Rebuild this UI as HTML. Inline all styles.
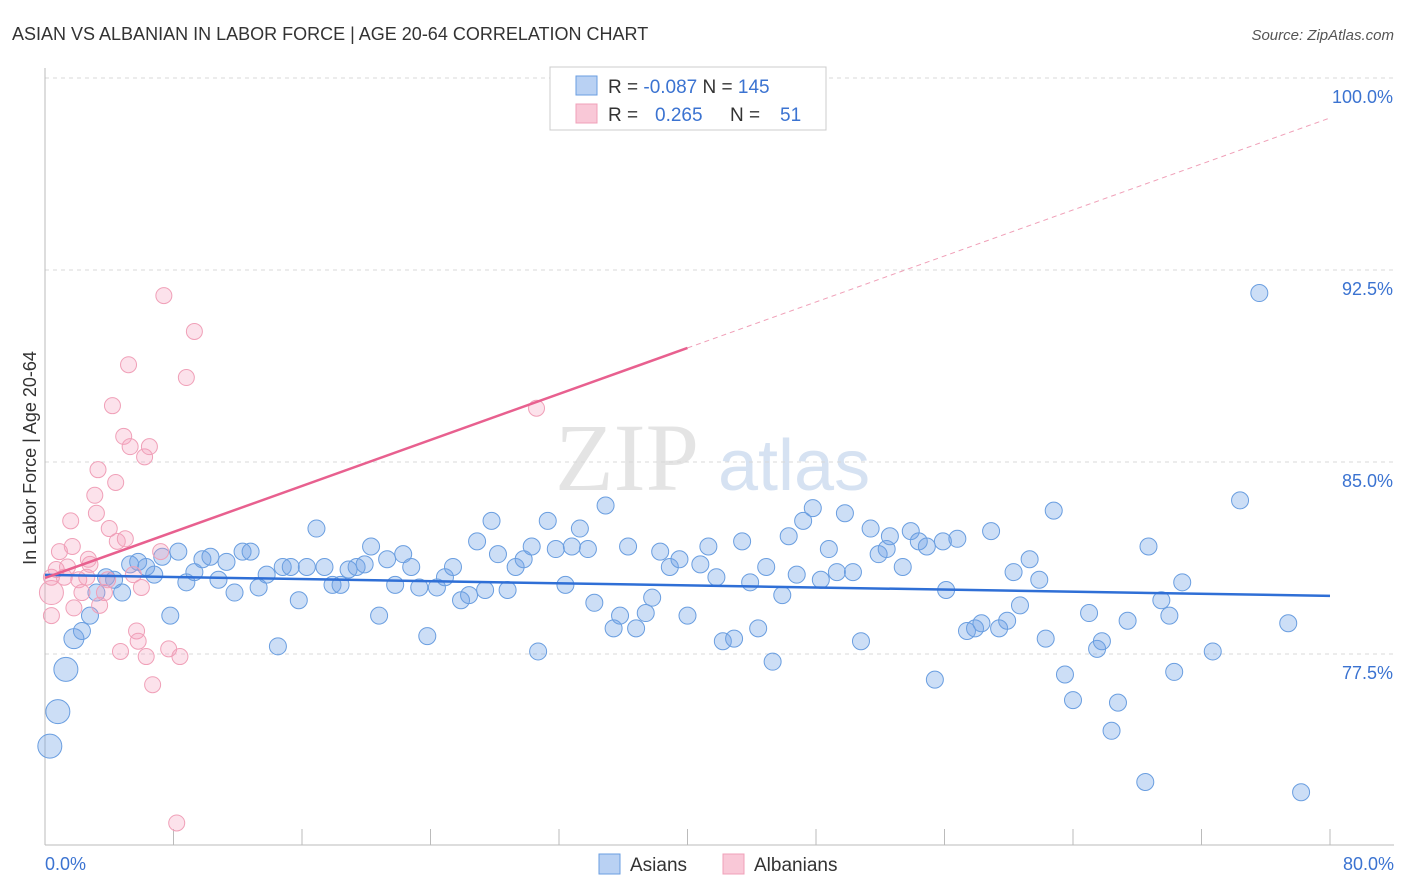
<!DOCTYPE html>
<html><head><meta charset="utf-8"><style>
body{margin:0;background:#fff;font-family:"Liberation Sans",sans-serif;}
svg{display:block}
</style></head><body>
<svg width="1406" height="892" viewBox="0 0 1406 892">
<text x="12" y="40" font-size="18" fill="#333">ASIAN VS ALBANIAN IN LABOR FORCE | AGE 20-64 CORRELATION CHART</text>
<text x="1394" y="40" font-size="15" fill="#555" font-style="italic" text-anchor="end">Source: ZipAtlas.com</text>
<g>
<text x="555" y="490" font-size="96" fill="#e4e4e4" font-family="Liberation Serif,serif">ZIP</text>
<text x="718" y="490" font-size="72" fill="#d6e2f2">atlas</text>
</g>
<g id="grid"></g>
<g id="axes"></g>
<g id="pts"></g>
<g id="trend"></g>
<text x="36" y="458" font-size="18" fill="#333" text-anchor="middle" transform="rotate(-90 36 458)">In Labor Force | Age 20-64</text>
<text x="45" y="870" font-size="18" fill="#3b73d1">0.0%</text>
<text x="1394" y="870" font-size="18" fill="#3b73d1" text-anchor="end">80.0%</text>
<g>
<rect x="550" y="67" width="276" height="63" fill="#fff" stroke="#ccc"/>
<rect x="576" y="76" width="21" height="19" fill="#b9d1f3" stroke="#6a9ee0"/>
<rect x="576" y="104" width="21" height="19" fill="#f9c8d7" stroke="#f0a0b8"/>
<text x="608" y="93" font-size="19" fill="#333">R = <tspan fill="#3b73d1">-0.087</tspan>   N = <tspan fill="#3b73d1">145</tspan></text>
<text x="608" y="121" font-size="19" fill="#333">R = <tspan fill="#3b73d1" x="655">0.265</tspan><tspan x="730">N =</tspan><tspan fill="#3b73d1" x="780">51</tspan></text>
</g>
<g>
<rect x="599" y="854" width="21" height="20" fill="#b9d1f3" stroke="#6a9ee0"/>
<text x="630" y="871" font-size="19" fill="#333">Asians</text>
<rect x="723" y="854" width="21" height="20" fill="#f9c8d7" stroke="#f0a0b8"/>
<text x="754" y="871" font-size="19" fill="#333">Albanians</text>
</g>
</svg>
<script>
const yTicks=[100,92.5,85,77.5];
const yTickLabels=["100.0%","92.5%","85.0%","77.5%"];
const xTicks=[0,8,16,24,32,40,48,56,64,72,80];
const asianX=[0.3,0.8,1.3,1.8,2.3,2.8,3.2,3.8,4.3,4.8,5.3,5.8,6.3,6.8,7.3,7.8,8.3,8.8,9.3,9.8,10.3,10.8,11.3,11.8,12.3,12.8,13.3,13.8,14.5,14.8,15.3,15.8,16.3,16.9,17.4,17.9,18.4,18.9,19.4,19.9,20.3,20.8,21.3,21.8,22.3,22.8,23.3,23.8,24.4,24.9,25.4,25.9,26.4,26.9,27.4,27.8,28.2,28.8,29.3,29.8,30.3,30.7,31.3,31.8,32.4,32.8,33.3,33.8,34.2,34.9,35.4,35.8,36.3,36.8,37.4,37.8,38.3,38.9,39.5,40.0,40.8,41.3,41.8,42.2,42.9,43.4,43.9,44.4,44.9,45.3,45.9,46.3,46.8,47.2,47.8,48.3,48.8,49.3,49.8,50.3,50.8,51.4,51.9,52.4,52.6,53.4,53.9,54.4,54.9,55.4,55.9,56.1,56.8,57.4,57.9,58.3,58.9,59.4,59.9,60.3,60.7,61.3,61.9,62.3,62.8,63.5,64.0,65.0,65.5,65.8,66.4,66.8,67.4,68.5,68.7,69.5,70.0,70.3,70.8,72.7,74.4,75.6,77.4,78.2];
const asianY=[73.9,75.25,76.9,78.1,78.4,79.0,79.9,80.5,80.4,79.9,81.0,81.1,80.9,80.6,81.3,79.0,81.5,80.3,80.7,81.2,81.3,80.4,81.1,79.9,81.5,81.5,80.1,80.6,77.8,80.9,80.9,79.6,80.9,82.4,80.9,80.2,80.2,80.8,80.9,81.0,81.7,79.0,81.2,80.2,81.4,80.9,80.1,78.2,80.1,80.5,80.9,79.6,79.8,81.9,80.0,82.7,81.4,80.0,80.9,81.2,81.7,77.6,82.7,81.6,80.2,81.7,82.4,81.6,79.5,83.3,78.5,79.0,81.7,78.5,79.1,79.7,81.5,80.9,81.2,79.0,81.0,81.7,80.5,78.0,78.1,81.9,80.3,78.5,80.9,77.2,79.8,82.1,80.6,82.7,83.2,80.4,81.6,80.7,83.0,80.7,78.0,82.4,81.4,81.6,82.1,80.9,82.3,81.9,81.7,76.5,81.9,80.0,82.0,78.4,78.5,78.7,82.3,78.5,78.8,80.7,79.4,81.2,80.4,78.1,83.1,76.7,75.7,79.1,77.7,78.0,74.5,75.6,78.8,72.5,81.7,79.6,79.0,76.8,80.3,77.6,83.5,91.6,78.7,72.1];
const albX=[0.4,0.4,0.4,0.7,0.9,1.2,1.4,1.6,1.7,1.8,2.1,2.3,2.6,2.7,2.8,3.1,3.2,3.3,3.4,3.7,3.9,4.0,4.2,4.4,4.5,4.7,4.9,5.0,5.2,5.3,5.5,5.7,5.8,6.0,6.2,6.3,6.5,6.7,7.2,7.4,7.7,8.4,8.2,8.8,9.3,30.6];
const albY=[79.9,79.0,80.5,80.8,81.5,80.5,80.9,82.7,81.7,79.3,80.4,79.9,80.5,81.2,81.0,83.7,83.0,84.7,79.4,79.9,80.4,82.4,87.2,84.2,81.9,77.6,86.0,82.0,88.8,85.6,80.6,78.4,78.0,80.1,85.2,77.4,85.6,76.3,81.5,91.5,77.7,77.4,70.9,88.3,90.1,87.1];
const asianTrend=[80.59,79.77];
const albTrend=[80.47,98.44];
const NS="http://www.w3.org/2000/svg";
const sx=v=>45+v*(1285/80);
const sy=v=>78+(100-v)*25.6;
function mk(tag,attrs,parent){const e=document.createElementNS(NS,tag);for(const k in attrs)e.setAttribute(k,attrs[k]);parent.appendChild(e);return e;}
const grid=document.getElementById('grid'),axes=document.getElementById('axes'),pts=document.getElementById('pts'),tr=document.getElementById('trend');
yTicks.forEach((t,i)=>{
 const l=mk('line',{x1:45,x2:1394,y1:sy(t),y2:sy(t),stroke:'#d8d8d8','stroke-dasharray':'4 4'},grid);
 
 
 const tx=mk('text',{x:1393,y:sy(t)+25,'font-size':18,fill:'#3b73d1','text-anchor':'end'},grid);
 tx.textContent=yTickLabels[i];
 
 
});
const ya=mk('line',{x1:45,x2:45,y1:68,y2:845,stroke:'#bbb'},axes);


const xa=mk('line',{x1:45,x2:1394,y1:845,y2:845,stroke:'#bbb'},axes);


xTicks.forEach(t=>{
 const l=mk('line',{x1:sx(t),x2:sx(t),y1:829,y2:845,stroke:'#bbb'},axes);
 
 
});
asianX.forEach((x,i)=>{
 const big=x<2?(x<1.5?12:10):8.5;
 const c=mk('circle',{cx:sx(x),cy:sy(asianY[i]),r:big,fill:'rgba(110,160,230,0.35)',stroke:'#6a9ee0','stroke-width':1},pts);
 
 
});
albX.forEach((x,i)=>{
 const c=mk('circle',{cx:sx(x),cy:sy(albY[i]),r:i===0?12:8,fill:'rgba(245,160,190,0.3)',stroke:'#f0a0b8','stroke-width':1},pts);
 
 
});
const bl=mk('line',{x1:sx(0),y1:sy(asianTrend[0]),x2:sx(80),y2:sy(asianTrend[1]),stroke:'#2f6fd6','stroke-width':2.5},tr);


const ay=x=>albTrend[0]+(albTrend[1]-albTrend[0])*x/80;
const pl=mk('line',{x1:sx(0),y1:sy(ay(0)),x2:sx(40),y2:sy(ay(40)),stroke:'#e8608f','stroke-width':2.5},tr);


const pd=mk('line',{x1:sx(40),y1:sy(ay(40)),x2:sx(80),y2:sy(ay(80)),stroke:'#f0a0b8','stroke-width':1,'stroke-dasharray':'5 4'},tr);


</script>
</body></html>
